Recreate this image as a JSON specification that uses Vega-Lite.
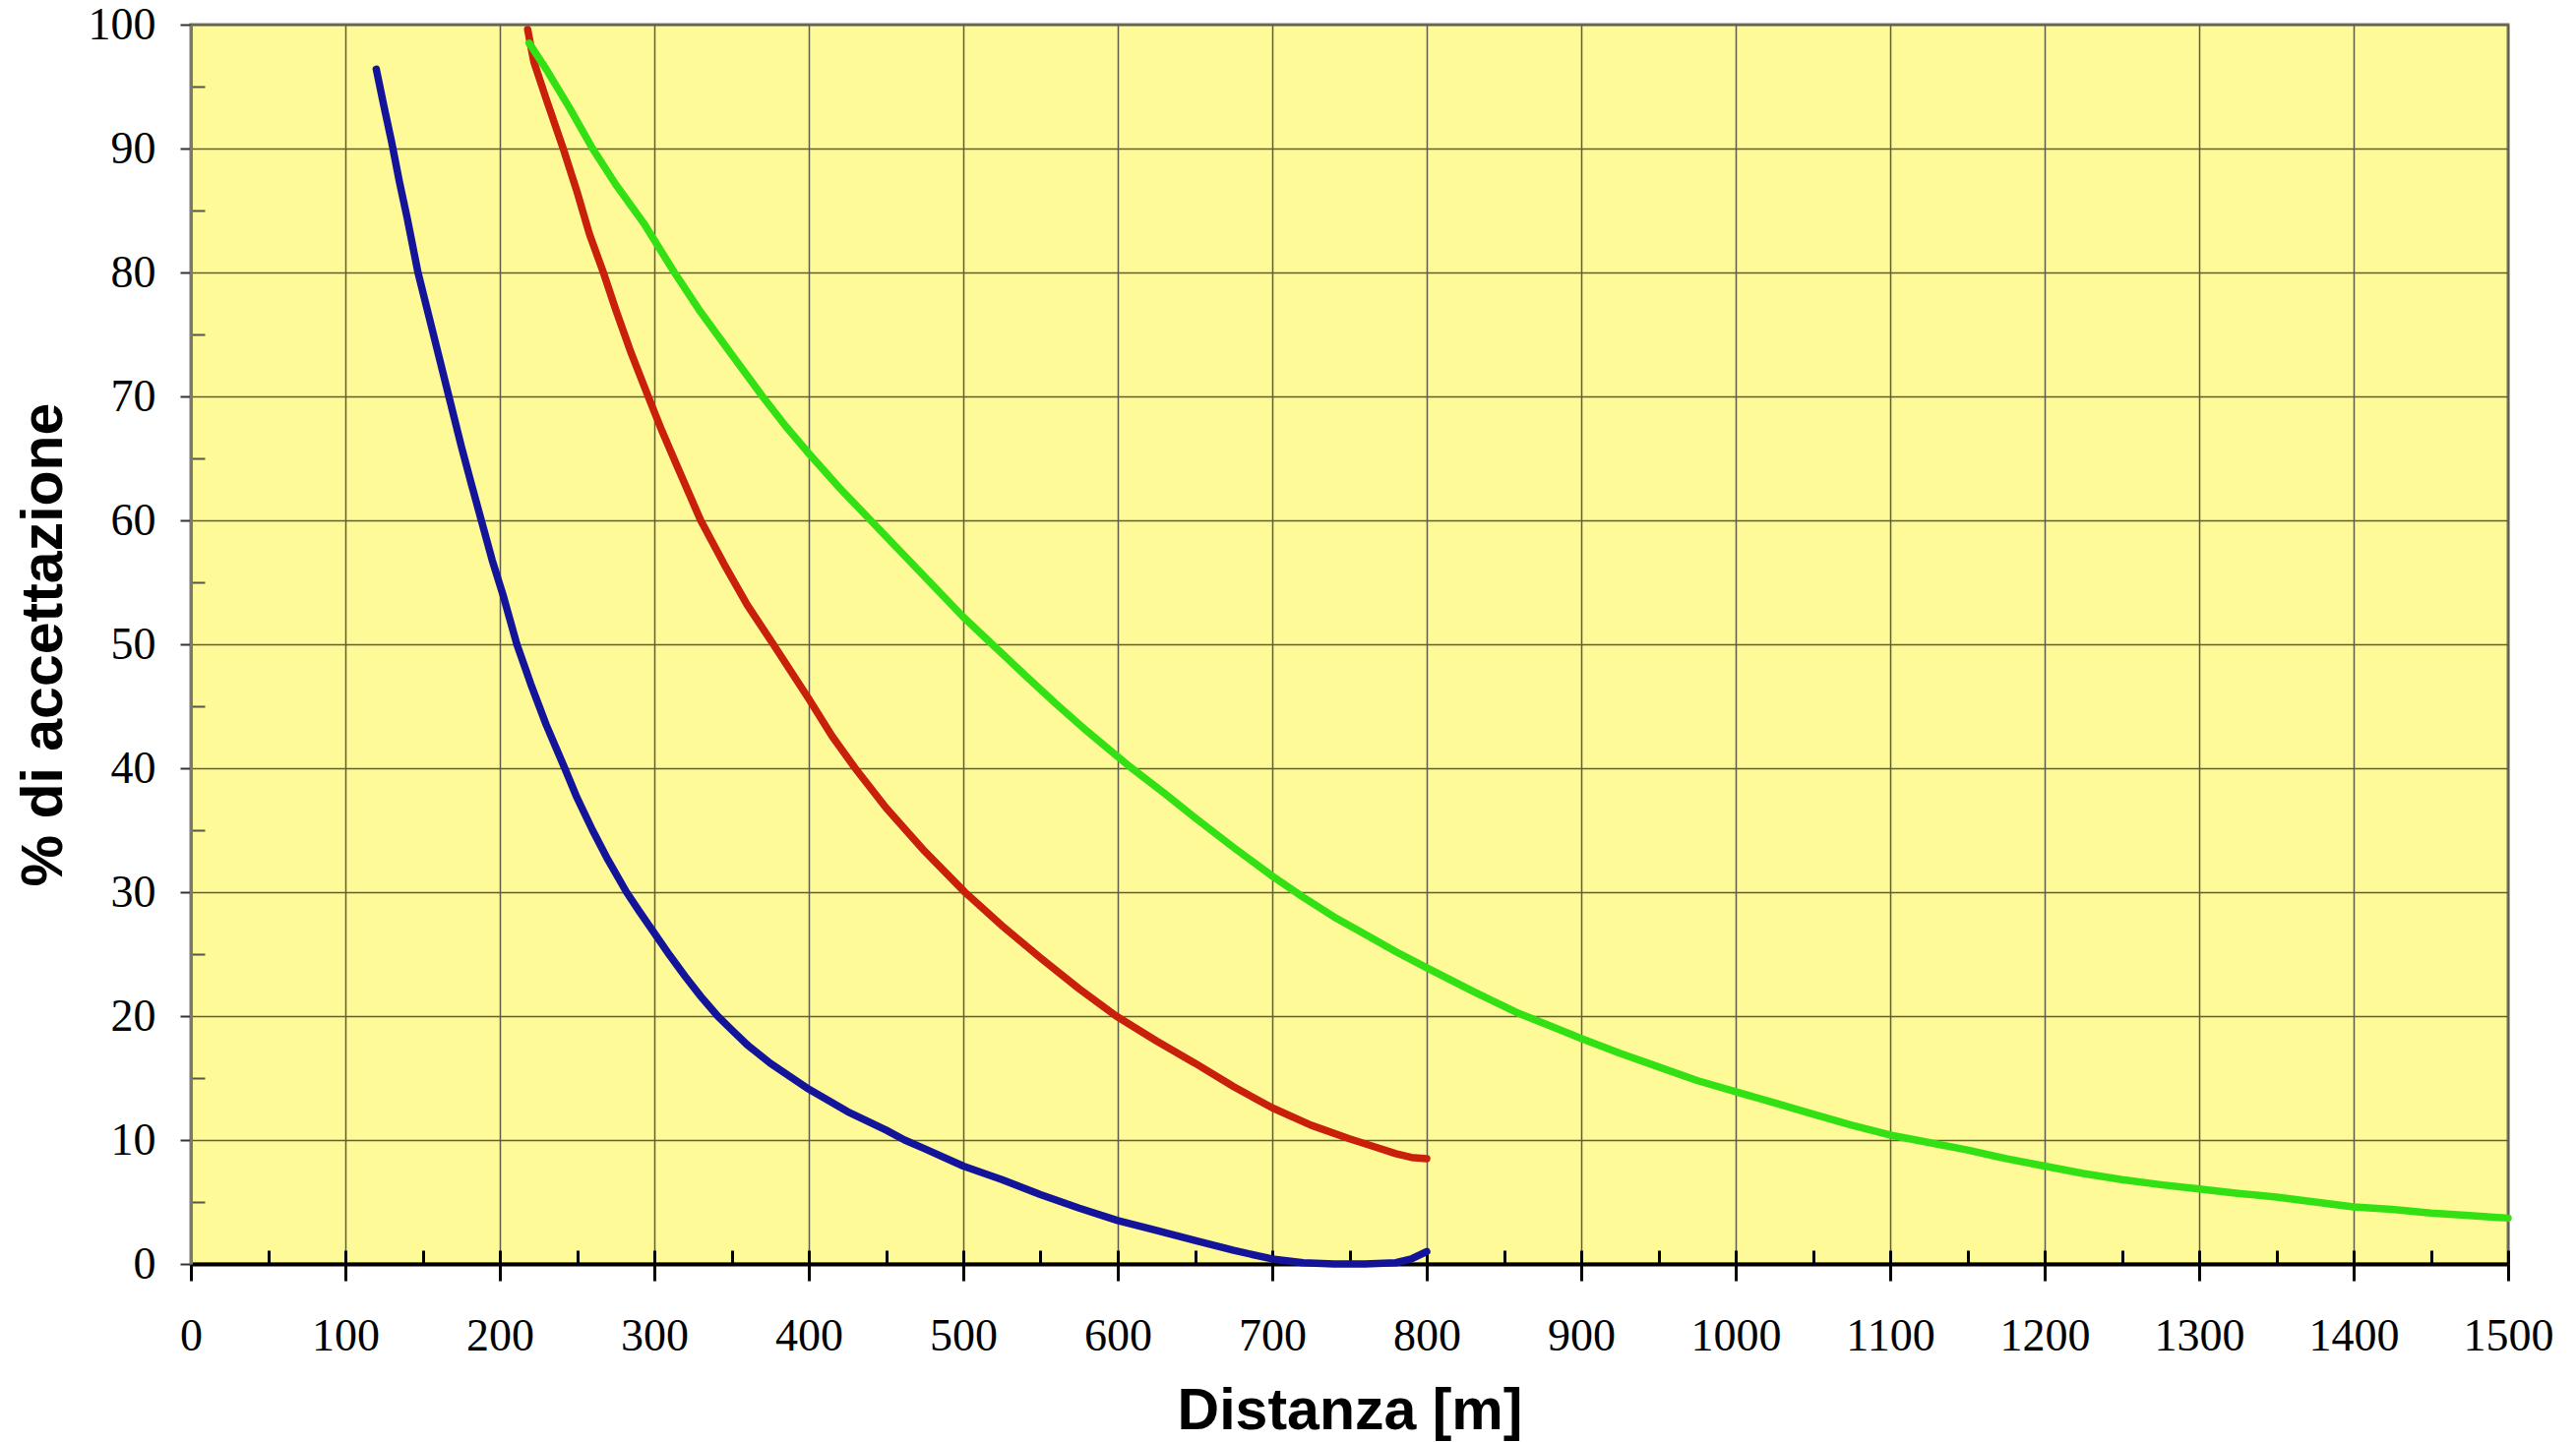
{
  "$schema": "https://vega.github.io/schema/vega-lite/v6.json",
  "width": 2355,
  "height": 1260,
  "autosize": "none",
  "padding": {"left": 194, "top": 25, "right": 69, "bottom": 181},
  "background": "white",
  "config": {
    "view": {"fill": "#FEFA98", "stroke": "#7a7a6a", "strokeWidth": 3}
  },
  "data": {
    "values": [
      {"serie": "blu", "d": 120, "p": 96.4}, {"serie": "blu", "d": 125, "p": 93.4}, {"serie": "blu", "d": 130, "p": 90.5},
      {"serie": "blu", "d": 135, "p": 87.3}, {"serie": "blu", "d": 140, "p": 84.4}, {"serie": "blu", "d": 147, "p": 80},
      {"serie": "blu", "d": 155, "p": 76}, {"serie": "blu", "d": 160, "p": 73.5}, {"serie": "blu", "d": 167, "p": 70},
      {"serie": "blu", "d": 175, "p": 66}, {"serie": "blu", "d": 181, "p": 63.2}, {"serie": "blu", "d": 188, "p": 60},
      {"serie": "blu", "d": 195, "p": 56.8}, {"serie": "blu", "d": 202, "p": 54}, {"serie": "blu", "d": 211, "p": 50},
      {"serie": "blu", "d": 220, "p": 46.8}, {"serie": "blu", "d": 230, "p": 43.5}, {"serie": "blu", "d": 242, "p": 40},
      {"serie": "blu", "d": 250, "p": 37.6}, {"serie": "blu", "d": 260, "p": 35}, {"serie": "blu", "d": 270, "p": 32.6},
      {"serie": "blu", "d": 282, "p": 30}, {"serie": "blu", "d": 290, "p": 28.5}, {"serie": "blu", "d": 300, "p": 26.7},
      {"serie": "blu", "d": 310, "p": 24.9}, {"serie": "blu", "d": 320, "p": 23.2}, {"serie": "blu", "d": 330, "p": 21.6},
      {"serie": "blu", "d": 341, "p": 20}, {"serie": "blu", "d": 350, "p": 18.9}, {"serie": "blu", "d": 360, "p": 17.7},
      {"serie": "blu", "d": 375, "p": 16.2}, {"serie": "blu", "d": 400, "p": 14.1}, {"serie": "blu", "d": 425, "p": 12.3},
      {"serie": "blu", "d": 450, "p": 10.8}, {"serie": "blu", "d": 462, "p": 10}, {"serie": "blu", "d": 475, "p": 9.3},
      {"serie": "blu", "d": 500, "p": 7.9}, {"serie": "blu", "d": 525, "p": 6.8}, {"serie": "blu", "d": 550, "p": 5.6},
      {"serie": "blu", "d": 575, "p": 4.5}, {"serie": "blu", "d": 600, "p": 3.5}, {"serie": "blu", "d": 625, "p": 2.7},
      {"serie": "blu", "d": 650, "p": 1.9}, {"serie": "blu", "d": 675, "p": 1.1}, {"serie": "blu", "d": 700, "p": 0.4},
      {"serie": "blu", "d": 720, "p": 0.1}, {"serie": "blu", "d": 740, "p": 0}, {"serie": "blu", "d": 760, "p": 0},
      {"serie": "blu", "d": 780, "p": 0.1}, {"serie": "blu", "d": 790, "p": 0.4}, {"serie": "blu", "d": 800, "p": 1.0},

      {"serie": "rosso", "d": 218, "p": 99.6}, {"serie": "rosso", "d": 222, "p": 97}, {"serie": "rosso", "d": 230, "p": 94},
      {"serie": "rosso", "d": 241, "p": 90}, {"serie": "rosso", "d": 250, "p": 86.5}, {"serie": "rosso", "d": 258, "p": 83.1},
      {"serie": "rosso", "d": 267, "p": 80}, {"serie": "rosso", "d": 275, "p": 77}, {"serie": "rosso", "d": 285, "p": 73.5},
      {"serie": "rosso", "d": 296, "p": 70}, {"serie": "rosso", "d": 305, "p": 67.2}, {"serie": "rosso", "d": 315, "p": 64.3},
      {"serie": "rosso", "d": 330, "p": 60}, {"serie": "rosso", "d": 345, "p": 56.5}, {"serie": "rosso", "d": 360, "p": 53.2},
      {"serie": "rosso", "d": 377, "p": 50}, {"serie": "rosso", "d": 400, "p": 45.6}, {"serie": "rosso", "d": 415, "p": 42.6},
      {"serie": "rosso", "d": 430, "p": 40}, {"serie": "rosso", "d": 450, "p": 36.8}, {"serie": "rosso", "d": 475, "p": 33.3},
      {"serie": "rosso", "d": 501, "p": 30}, {"serie": "rosso", "d": 525, "p": 27.3}, {"serie": "rosso", "d": 550, "p": 24.7},
      {"serie": "rosso", "d": 575, "p": 22.2}, {"serie": "rosso", "d": 599, "p": 20}, {"serie": "rosso", "d": 625, "p": 18},
      {"serie": "rosso", "d": 650, "p": 16.2}, {"serie": "rosso", "d": 675, "p": 14.3}, {"serie": "rosso", "d": 700, "p": 12.6},
      {"serie": "rosso", "d": 725, "p": 11.2}, {"serie": "rosso", "d": 750, "p": 10.1}, {"serie": "rosso", "d": 765, "p": 9.5},
      {"serie": "rosso", "d": 780, "p": 8.9}, {"serie": "rosso", "d": 790, "p": 8.6}, {"serie": "rosso", "d": 800, "p": 8.5},

      {"serie": "verde", "d": 219, "p": 98.5}, {"serie": "verde", "d": 230, "p": 96.4}, {"serie": "verde", "d": 245, "p": 93.3},
      {"serie": "verde", "d": 260, "p": 90}, {"serie": "verde", "d": 275, "p": 87.1}, {"serie": "verde", "d": 293, "p": 84},
      {"serie": "verde", "d": 313, "p": 80}, {"serie": "verde", "d": 330, "p": 76.8}, {"serie": "verde", "d": 350, "p": 73.4},
      {"serie": "verde", "d": 370, "p": 70}, {"serie": "verde", "d": 385, "p": 67.6}, {"serie": "verde", "d": 400, "p": 65.4},
      {"serie": "verde", "d": 420, "p": 62.6}, {"serie": "verde", "d": 440, "p": 60}, {"serie": "verde", "d": 460, "p": 57.4},
      {"serie": "verde", "d": 480, "p": 54.8}, {"serie": "verde", "d": 500, "p": 52.2}, {"serie": "verde", "d": 517, "p": 50.2},
      {"serie": "verde", "d": 540, "p": 47.5}, {"serie": "verde", "d": 560, "p": 45.2}, {"serie": "verde", "d": 580, "p": 43},
      {"serie": "verde", "d": 607, "p": 40.2}, {"serie": "verde", "d": 630, "p": 38}, {"serie": "verde", "d": 650, "p": 36},
      {"serie": "verde", "d": 675, "p": 33.6}, {"serie": "verde", "d": 700, "p": 31.3}, {"serie": "verde", "d": 720, "p": 29.6},
      {"serie": "verde", "d": 740, "p": 28}, {"serie": "verde", "d": 760, "p": 26.6}, {"serie": "verde", "d": 780, "p": 25.2},
      {"serie": "verde", "d": 800, "p": 23.9}, {"serie": "verde", "d": 830, "p": 22}, {"serie": "verde", "d": 858, "p": 20.3},
      {"serie": "verde", "d": 880, "p": 19.2}, {"serie": "verde", "d": 900, "p": 18.2}, {"serie": "verde", "d": 925, "p": 17},
      {"serie": "verde", "d": 950, "p": 15.9}, {"serie": "verde", "d": 975, "p": 14.8}, {"serie": "verde", "d": 1000, "p": 13.9},
      {"serie": "verde", "d": 1025, "p": 13}, {"serie": "verde", "d": 1050, "p": 12.1}, {"serie": "verde", "d": 1075, "p": 11.2},
      {"serie": "verde", "d": 1100, "p": 10.4}, {"serie": "verde", "d": 1125, "p": 9.8}, {"serie": "verde", "d": 1150, "p": 9.2},
      {"serie": "verde", "d": 1175, "p": 8.5}, {"serie": "verde", "d": 1200, "p": 7.9}, {"serie": "verde", "d": 1225, "p": 7.3},
      {"serie": "verde", "d": 1250, "p": 6.8}, {"serie": "verde", "d": 1275, "p": 6.4}, {"serie": "verde", "d": 1300, "p": 6.05},
      {"serie": "verde", "d": 1325, "p": 5.7}, {"serie": "verde", "d": 1350, "p": 5.4}, {"serie": "verde", "d": 1375, "p": 5.0},
      {"serie": "verde", "d": 1400, "p": 4.6}, {"serie": "verde", "d": 1425, "p": 4.4}, {"serie": "verde", "d": 1450, "p": 4.1},
      {"serie": "verde", "d": 1475, "p": 3.9}, {"serie": "verde", "d": 1500, "p": 3.7}
    ]
  },
  "resolve": {"axis": {"x": "independent", "y": "independent"}},
  "layer": [
    {
      "mark": {"type": "line", "strokeOpacity": 0},
      "encoding": {
        "x": {
          "field": "d", "type": "quantitative",
          "scale": {"domain": [0, 1500], "nice": false, "zero": false},
          "axis": {
            "orient": "bottom", "title": null, "labels": false, "domain": false, "grid": false,
            "values": [0, 50, 100, 150, 200, 250, 300, 350, 400, 450, 500, 550, 600, 650, 700, 750, 800, 850, 900, 950, 1000, 1050, 1100, 1150, 1200, 1250, 1300, 1350, 1400, 1450, 1500],
            "ticks": true, "tickSize": -14, "tickColor": "#000000", "tickWidth": 3
          }
        },
        "y": {
          "field": "p", "type": "quantitative",
          "scale": {"domain": [0, 100], "nice": false},
          "axis": {
            "orient": "left", "title": null, "labels": false, "domain": false, "grid": false,
            "values": [5, 15, 25, 35, 45, 55, 65, 75, 85, 95],
            "ticks": true, "tickSize": -14, "tickColor": "#555544", "tickWidth": 2
          }
        },
        "detail": {"field": "serie"}
      }
    },
    {
      "mark": {"type": "line", "strokeWidth": 7.5, "strokeCap": "round", "strokeJoin": "round"},
      "encoding": {
        "x": {
          "field": "d", "type": "quantitative",
          "scale": {"domain": [0, 1500], "nice": false, "zero": false},
          "axis": {
            "orient": "bottom",
            "title": "Distanza [m]",
            "format": "d",
            "values": [0, 100, 200, 300, 400, 500, 600, 700, 800, 900, 1000, 1100, 1200, 1300, 1400, 1500],
            "grid": true, "gridColor": "#5c5c48", "gridWidth": 1.5,
            "domainColor": "#000000", "domainWidth": 4,
            "tickColor": "#000000", "tickWidth": 3, "tickSize": 17,
            "labelFont": "Liberation Serif", "labelFontSize": 46, "labelColor": "#000000",
            "labelPadding": 34, "labelFlush": false, "labelOverlap": false,
            "titleFont": "Liberation Sans", "titleFontSize": 59, "titleFontWeight": "bold", "titleColor": "#000000",
            "titleBaseline": "alphabetic", "titleY": 167
          }
        },
        "y": {
          "field": "p", "type": "quantitative",
          "scale": {"domain": [0, 100], "nice": false},
          "axis": {
            "orient": "left",
            "title": "% di accettazione",
            "format": "d",
            "values": [0, 10, 20, 30, 40, 50, 60, 70, 80, 90, 100],
            "grid": true, "gridColor": "#5c5c48", "gridWidth": 1.5,
            "domainColor": "#7a7a6a", "domainWidth": 3,
            "tickColor": "#333333", "tickWidth": 2, "tickSize": 11,
            "labelFont": "Liberation Serif", "labelFontSize": 46, "labelColor": "#000000",
            "labelPadding": 25, "labelFlush": false, "labelOverlap": false,
            "titleFont": "Liberation Sans", "titleFontSize": 59, "titleFontWeight": "bold", "titleColor": "#000000",
            "titleAngle": 270, "titleBaseline": "alphabetic", "titleAlign": "center", "titleX": -132, "titleY": 630
          }
        },
        "color": {
          "field": "serie", "type": "nominal",
          "scale": {"domain": ["blu", "rosso", "verde"], "range": ["#14149a", "#c8200a", "#33e014"]},
          "legend": null
        }
      }
    }
  ]
}
